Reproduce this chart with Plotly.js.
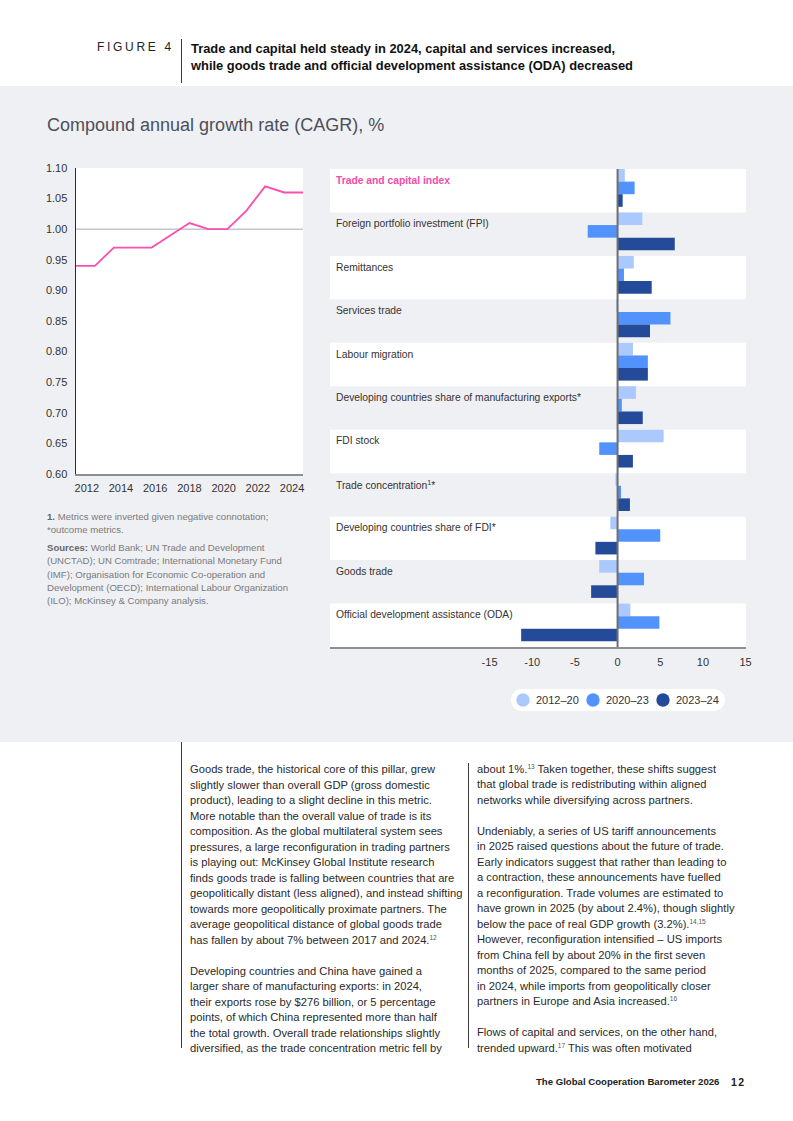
<!DOCTYPE html>
<html>
<head>
<meta charset="utf-8">
<script src="https://cdn.plot.ly/plotly-3.0.1.min.js"></script>
<style>
  html, body { margin: 0; padding: 0; background: #ffffff; }
  body { font-family: "Liberation Sans", Arial, sans-serif; color: #2a2a2a; }
  #page { position: relative; width: 793px; height: 1121px; overflow: hidden; background: #fff; }
  #band { position: absolute; left: 0; top: 86px; width: 793px; height: 656px; background: #eff0f4; }
  #pill { position: absolute; left: 511px; top: 689px; width: 214px; height: 22px; border-radius: 11px; background: #ffffff; }
  #chart { position: absolute; left: 0; top: 0; width: 793px; height: 1121px; }
  .abs { position: absolute; white-space: nowrap; }
  .vbar { position: absolute; width: 1px; background: #3a3a3a; }
  sup { font-size: 6.5px; line-height: 0; vertical-align: 4px; color: #555; }
  .body { font-size: 11.2px; line-height: 15.5px; color: #2a2a2a; }
  .foot { font-size: 9.6px; line-height: 13.3px; color: #7a7a7a; }
</style>
</head>
<body>
<div id="page">
  <div id="band"></div>
  <div id="pill"></div>
  <div id="chart"></div>

  <div class="abs" style="left:97px; top:40px; font-size:12px; line-height:15px; letter-spacing:2.7px; color:#222;">FIGURE 4</div>
  <div class="vbar" style="left:181px; top:39px; height:44px;"></div>
  <div class="abs" style="left:191px; top:39.5px; font-size:12.9px; line-height:17px; font-weight:bold; color:#111;">Trade and capital held steady in 2024, capital and services increased,<br>while goods trade and official development assistance (ODA) decreased</div>

  <div class="abs" style="left:47px; top:114px; font-size:18px; line-height:22px; color:#4b4f5b;">Compound annual growth rate (CAGR), %</div>

  <div class="abs foot" style="left:47px; top:510px;"><b style="color:#666">1.</b> Metrics were inverted given negative connotation;<br>*outcome metrics.</div>
  <div class="abs foot" style="left:47px; top:541px;"><b style="color:#666">Sources:</b> World Bank; UN Trade and Development<br>(UNCTAD); UN Comtrade; International Monetary Fund<br>(IMF); Organisation for Economic Co-operation and<br>Development (OECD); International Labour Organization<br>(ILO); McKinsey &amp; Company analysis.</div>

  <div class="vbar" style="left:181px; top:742px; height:306px;"></div>
  <div class="vbar" style="left:468px; top:763px; height:285px;"></div>

  <div class="abs body" style="left:190px; top:762px;">Goods trade, the historical core of this pillar, grew<br>slightly slower than overall GDP (gross domestic<br>product), leading to a slight decline in this metric.<br>More notable than the overall value of trade is its<br>composition. As the global multilateral system sees<br>pressures, a large reconfiguration in trading partners<br>is playing out: McKinsey Global Institute research<br>finds goods trade is falling between countries that are<br>geopolitically distant (less aligned), and instead shifting<br>towards more geopolitically proximate partners. The<br>average geopolitical distance of global goods trade<br>has fallen by about 7% between 2017 and 2024.<sup>12</sup><br><br>Developing countries and China have gained a<br>larger share of manufacturing exports: in 2024,<br>their exports rose by $276 billion, or 5 percentage<br>points, of which China represented more than half<br>the total growth. Overall trade relationships slightly<br>diversified, as the trade concentration metric fell by</div>

  <div class="abs body" style="left:477px; top:761.5px;">about 1%.<sup>13</sup> Taken together, these shifts suggest<br>that global trade is redistributing within aligned<br>networks while diversifying across partners.<br><br>Undeniably, a series of US tariff announcements<br>in 2025 raised questions about the future of trade.<br>Early indicators suggest that rather than leading to<br>a contraction, these announcements have fuelled<br>a reconfiguration. Trade volumes are estimated to<br>have grown in 2025 (by about 2.4%), though slightly<br>below the pace of real GDP growth (3.2%).<sup>14,15</sup><br>However, reconfiguration intensified – US imports<br>from China fell by about 20% in the first seven<br>months of 2025, compared to the same period<br>in 2024, while imports from geopolitically closer<br>partners in Europe and Asia increased.<sup>16</sup><br><br>Flows of capital and services, on the other hand,<br>trended upward.<sup>17</sup> This was often motivated</div>

  <div class="abs" style="left:536px; top:1076px; font-size:9.6px; line-height:12px; font-weight:bold; color:#222;">The Global Cooperation Barometer 2026</div>
  <div class="abs" style="left:731px; top:1075.5px; font-size:10.5px; line-height:12px; letter-spacing:1.4px; font-weight:bold; color:#222;">12</div>
</div>

<script>
// ---------- Data ----------
const years = [2012, 2013, 2014, 2015, 2016, 2017, 2018, 2019, 2020, 2021, 2022, 2023, 2024];
const indexValues = [0.94, 0.94, 0.97, 0.97, 0.97, 0.99, 1.01, 1.00, 1.00, 1.03, 1.07, 1.06, 1.06];
const yearTickLabels = [2012, 2014, 2016, 2018, 2020, 2022, 2024];
const referenceLevel = 1.00;

const categories = [
  "Trade and capital index",
  "Foreign portfolio investment (FPI)",
  "Remittances",
  "Services trade",
  "Labour migration",
  "Developing countries share of manufacturing exports*",
  "FDI stock",
  "Trade concentration<sup>1</sup>*",
  "Developing countries share of FDI*",
  "Goods trade",
  "Official development assistance (ODA)"
];
const seriesNames = ["2012–20", "2020–23", "2023–24"];
const cagr2012_20 = [0.85, 2.9, 1.9, -0.15, 1.8, 2.15, 5.4, -0.25, -0.85, -2.15, 1.5];
const cagr2020_23 = [2.0, -3.5, 0.75, 6.2, 3.55, 0.5, -2.15, 0.4, 5.0, 3.1, 4.9];
const cagr2023_24 = [0.6, 6.7, 4.0, 3.8, 3.55, 2.95, 1.8, 1.45, -2.6, -3.1, -11.3];
const barTickValues = [-15, -10, -5, 0, 5, 10, 15];
const barTickLabels = ["-15", "-10", "-5", "0", "5", "10", "15"];

// ---------- Styles ----------
const W = 793, H = 1121;
const FONT = '"Liberation Sans", Arial, sans-serif';
const GRAY_BG = '#eff0f4';
const seriesColors = ['#abc9fc', '#5293fb', '#244b9a'];
const barOffsets = [-0.5, -0.21, 0.08];
const barWidth = 0.29;
const px = v => v / W;
const py = v => 1 - v / H;
const axisFont = { family: FONT, size: 11, color: '#333333' };

const traces = [];
traces.push({
  type: 'scatter', mode: 'lines', x: years, y: indexValues,
  xaxis: 'x', yaxis: 'y', showlegend: false, hoverinfo: 'skip',
  line: { color: '#fb4fae', width: 1.8 }
});
// carrier for the year tick-label axis (no visible marks)
traces.push({
  type: 'scatter', mode: 'markers', x: yearTickLabels, y: yearTickLabels.map(() => null),
  xaxis: 'x3', yaxis: 'y', showlegend: false, hoverinfo: 'skip', marker: { opacity: 0 }
});
const seriesValues = [cagr2012_20, cagr2020_23, cagr2023_24];
seriesValues.forEach((vals, i) => {
  traces.push({
    type: 'bar', orientation: 'h', y: categories, x: vals,
    xaxis: 'x2', yaxis: 'y2', name: seriesNames[i], showlegend: false,
    offset: barOffsets[i], width: barWidth,
    marker: { color: seriesColors[i], line: { width: 0 } }
  });
});

// ---------- Shapes ----------
const shapes = [];
shapes.push({
  type: 'line', xref: 'x domain', x0: 0, x1: 1, yref: 'y', y0: referenceLevel, y1: referenceLevel,
  line: { color: '#c3c6cf', width: 1.6 }, layer: 'below'
});
categories.forEach((c, i) => {
  if (i % 2 === 1) {
    shapes.push({
      type: 'rect', xref: 'x2 domain', x0: 0, x1: 1, yref: 'y2', y0: i - 0.5, y1: i + 0.5,
      fillcolor: GRAY_BG, line: { width: 0 }, layer: 'below'
    });
  }
});
shapes.push({
  type: 'line', xref: 'x2', x0: 0, x1: 0, yref: 'y2 domain', y0: 0, y1: 1,
  line: { color: '#6f6f6f', width: 2 }, layer: 'above'
});

// ---------- Annotations ----------
const annotations = categories.map((c, i) => ({
  xref: 'x2 domain', x: 4 / 416, xanchor: 'left',
  yref: 'y2', y: c, yanchor: 'middle', yshift: 10.5,
  text: c, showarrow: false,
  font: i === 0 ? { family: FONT, size: 10.3, color: '#f54aa6', weight: 700 }
                : { family: FONT, size: 10.3, color: '#333333' }
}));

// ---------- Legend (circle key + labels) ----------
const legendStartX = 523, legendStep = 70, legendY = 700, legendR = 6.7;
seriesNames.forEach((n, i) => {
  const cx = legendStartX + i * legendStep;
  shapes.push({
    type: 'circle', xref: 'paper', yref: 'paper',
    xsizemode: 'pixel', ysizemode: 'pixel',
    xanchor: px(cx), yanchor: py(legendY),
    x0: -legendR, x1: legendR, y0: -legendR, y1: legendR,
    fillcolor: seriesColors[i], line: { width: 0 }, layer: 'above'
  });
  annotations.push({
    xref: 'paper', yref: 'paper', x: px(cx + 11), y: py(legendY),
    xanchor: 'left', yanchor: 'middle', showarrow: false,
    text: n, font: axisFont
  });
});

const layout = {
  width: W, height: H,
  margin: { l: 0, r: 0, t: 0, b: 0, pad: 0 },
  paper_bgcolor: 'rgba(0,0,0,0)',
  plot_bgcolor: '#ffffff',
  font: { family: FONT, size: 11, color: '#333' },
  barmode: 'overlay',
  showlegend: false,
  xaxis: {
    domain: [px(76), px(303)], anchor: 'y', range: [2012, 2024],
    showticklabels: false, ticks: '', showgrid: false, zeroline: false,
    showline: true, linecolor: '#8e8e8e', linewidth: 2, fixedrange: true
  },
  xaxis3: {
    overlaying: 'x', anchor: 'y', side: 'bottom', range: [2011.37, 2024.64],
    tickvals: yearTickLabels, ticktext: yearTickLabels.map(String),
    ticks: '', showgrid: false, zeroline: false, showline: false,
    tickfont: axisFont, ticklabelstandoff: 6, fixedrange: true
  },
  yaxis: {
    domain: [py(474), py(168)], anchor: 'x', range: [0.6, 1.1],
    tick0: 0.6, dtick: 0.05, tickformat: '.2f', ticks: '',
    showgrid: false, zeroline: false, showline: true, linecolor: '#2b2b2b', linewidth: 1.5,
    tickfont: axisFont, ticklabelstandoff: 5, fixedrange: true
  },
  xaxis2: {
    domain: [px(330), px(746)], anchor: 'y2', range: [-33.7, 15.05],
    tickvals: barTickValues, ticktext: barTickLabels, ticks: '',
    showgrid: false, zeroline: false, showline: true, linecolor: '#8e8e8e', linewidth: 1.5,
    tickfont: axisFont, ticklabelstandoff: 4, fixedrange: true
  },
  yaxis2: {
    domain: [py(647), py(169)], anchor: 'x2', type: 'category',
    categoryorder: 'array', categoryarray: categories, range: [10.5, -0.5],
    showticklabels: false, ticks: '', showgrid: false, zeroline: false, showline: false,
    fixedrange: true
  },
  shapes: shapes,
  annotations: annotations
};

Plotly.newPlot('chart', traces, layout, { staticPlot: true, displayModeBar: false });
</script>
</body>
</html>
